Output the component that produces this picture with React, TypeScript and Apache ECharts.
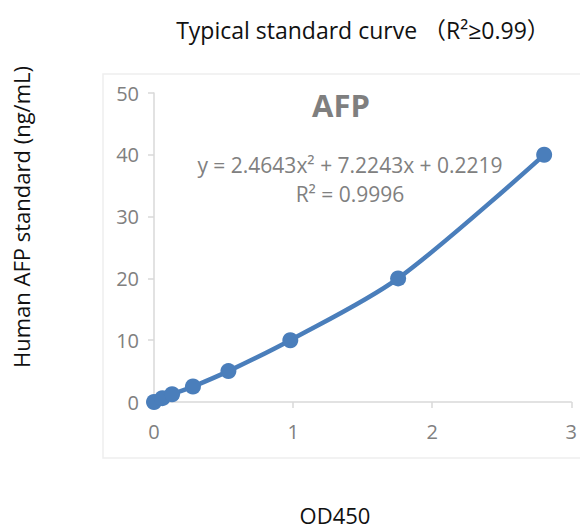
import React, { useEffect, useRef } from "react";
import * as echarts from "echarts";

const odValues = [0, 0.06, 0.13, 0.28, 0.535, 0.98, 1.755, 2.805];
const concValues = [0, 0.625, 1.25, 2.5, 5, 10, 20, 40];
const xTicks = [0, 1, 2, 3];
const yTicks = [0, 10, 20, 30, 40, 50];

export default function App() {
  const ref = useRef<HTMLDivElement>(null);
  useEffect(() => {
    const chart = echarts.init(ref.current!, null, { renderer: "svg" });
    const font = "Open Sans, Lato, sans-serif";
    chart.setOption({
      animation: false,
      backgroundColor: "#ffffff",
      grid: { left: 154, right: 5, top: 93, bottom: 130, containLabel: false },
      xAxis: {
        type: "value",
        min: xTicks[0],
        max: xTicks[xTicks.length - 1],
        interval: 1,
        axisLine: { show: true, lineStyle: { color: "#d9d9d9", width: 1.5 } },
        axisTick: { show: true, length: 6, lineStyle: { color: "#d9d9d9", width: 1.5 } },
        axisLabel: { color: "#808080", fontSize: 20, fontFamily: font, margin: 19 },
        splitLine: { show: false },
      },
      yAxis: {
        type: "value",
        min: yTicks[0],
        max: yTicks[yTicks.length - 1],
        interval: 10,
        axisLine: { show: true, lineStyle: { color: "#d9d9d9", width: 1.5 } },
        axisTick: { show: true, length: 6, lineStyle: { color: "#d9d9d9", width: 1.5 } },
        axisLabel: { color: "#808080", fontSize: 20, fontFamily: font, margin: 15 },
        splitLine: { show: false },
      },
      series: [
        {
          type: "line",
          data: odValues.map((x, i) => [x, concValues[i]]),
          smooth: 0.3,
          symbol: "circle",
          symbolSize: 16,
          lineStyle: { color: "#4a7ebb", width: 4.5 },
          itemStyle: { color: "#4a7ebb" },
        },
      ],
      graphic: [
        {
          type: "rect",
          silent: true,
          z: -10,
          shape: { x: 103, y: 74, width: 490, height: 384 },
          style: { fill: "none", stroke: "#eeeeee", lineWidth: 1.5 },
        },
        {
          type: "text",
          x: 363,
          y: 30,
          style: {
            text: "Typical standard curve （R²≥0.99）",
            font: "23px 'Open Sans', 'Noto Sans CJK SC', sans-serif",
            fill: "#111111",
            textAlign: "center",
            textVerticalAlign: "middle",
          },
        },
        {
          type: "text",
          x: 21,
          y: 217,
          rotation: Math.PI / 2,
          style: {
            text: "Human AFP standard (ng/mL)",
            font: "22px 'Open Sans', sans-serif",
            fill: "#111111",
            textAlign: "center",
            textVerticalAlign: "middle",
          },
        },
        {
          type: "text",
          x: 335,
          y: 515,
          style: {
            text: "OD450",
            font: "22px 'Open Sans', sans-serif",
            fill: "#111111",
            textAlign: "center",
            textVerticalAlign: "middle",
          },
        },
        {
          type: "text",
          x: 341,
          y: 105,
          style: {
            text: "AFP",
            font: "bold 31px 'Open Sans', sans-serif",
            fill: "#7f7f7f",
            textAlign: "center",
            textVerticalAlign: "middle",
          },
        },
        {
          type: "text",
          x: 350,
          y: 165,
          style: {
            text: "y = 2.4643x² + 7.2243x + 0.2219",
            font: "21px 'Open Sans', sans-serif",
            fill: "#808080",
            textAlign: "center",
            textVerticalAlign: "middle",
          },
        },
        {
          type: "text",
          x: 350,
          y: 194,
          style: {
            text: "R² = 0.9996",
            font: "21px 'Open Sans', sans-serif",
            fill: "#808080",
            textAlign: "center",
            textVerticalAlign: "middle",
          },
        },
      ],
    });
    return () => chart.dispose();
  }, []);
  return (
    <div
      ref={ref}
      style={{ position: "fixed", left: 0, top: 0, width: 580, height: 532 }}
    />
  );
}
